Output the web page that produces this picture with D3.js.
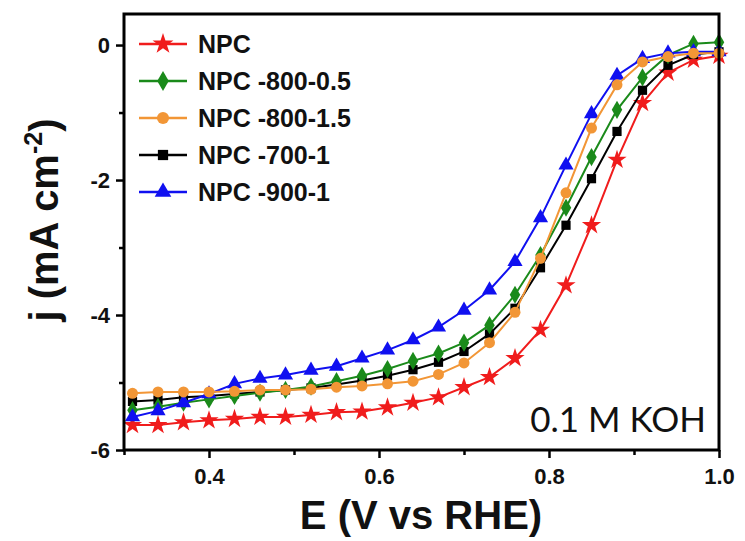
<!DOCTYPE html>
<html><head><meta charset="utf-8">
<script src="https://cdn.jsdelivr.net/npm/d3@7"></script>
<style>body{margin:0;background:#fff}svg{display:block}</style>
</head><body>
<script>
// ---- data ----
const potentials = [0.31,0.34,0.37,0.40,0.43,0.46,0.49,0.52,0.55,0.58,0.61,0.64,0.67,0.70,0.73,0.76,0.79,0.82,0.85,0.88,0.91,0.94,0.97,1.00];
const seriesNames = ["NPC","NPC -800-0.5","NPC -800-1.5","NPC -700-1","NPC -900-1"];
const jNPC      = [-5.63,-5.63,-5.59,-5.56,-5.54,-5.51,-5.51,-5.48,-5.44,-5.43,-5.37,-5.30,-5.22,-5.07,-4.92,-4.64,-4.22,-3.56,-2.67,-1.70,-0.86,-0.41,-0.22,-0.16];
const jNPC800_05= [-5.41,-5.36,-5.30,-5.25,-5.20,-5.15,-5.11,-5.06,-4.98,-4.90,-4.80,-4.68,-4.57,-4.41,-4.15,-3.70,-3.11,-2.41,-1.66,-0.96,-0.48,-0.15,0.02,0.04];
const jNPC800_15= [-5.16,-5.14,-5.14,-5.14,-5.13,-5.11,-5.11,-5.10,-5.07,-5.05,-5.02,-4.98,-4.88,-4.71,-4.41,-3.96,-3.16,-2.19,-1.23,-0.59,-0.25,-0.17,-0.12,-0.12];
const jNPC700_1 = [-5.28,-5.26,-5.22,-5.20,-5.17,-5.14,-5.11,-5.08,-5.03,-4.97,-4.90,-4.81,-4.70,-4.54,-4.28,-3.90,-3.30,-2.67,-1.98,-1.28,-0.67,-0.30,-0.14,-0.10];
const jNPC900_1 = [-5.51,-5.42,-5.30,-5.17,-5.02,-4.94,-4.89,-4.82,-4.76,-4.64,-4.52,-4.37,-4.18,-3.93,-3.63,-3.21,-2.56,-1.78,-1.02,-0.45,-0.20,-0.12,-0.10,-0.10];
const seriesColors = ["#f01c1c","#1a8a1a","#f29636","#000000","#1010f0"];
const xTicks = [0.4,0.6,0.8,1.0];
const xMinor = [0.3,0.5,0.7,0.9];
const yTicks = [0,-2,-4,-6];
const yMinor = [-1,-3,-5];
const annotation = "0.1 M KOH";

const allJ = [jNPC,jNPC800_05,jNPC800_15,jNPC700_1,jNPC900_1];
const symbols = [d3.symbolStar,d3.symbolDiamond,d3.symbolCircle,d3.symbolSquare,d3.symbolTriangle];
const symSizes = [115,95,95,85,100];

const W=745,H=541;
const M={l:124,r:719,t:14,b:450};
const svg=d3.select("body").append("svg").attr("width",W).attr("height",H);
const x=d3.scaleLinear().domain([0.3,1.0]).range([M.l,M.r]);
const y=d3.scaleLinear().domain([-6,0.46]).range([M.b,M.t]);
const font="'Liberation Sans',Arial,sans-serif";

// series (draw order)
const order=[0,3,1,4,2];
const line=d3.line().x(d=>x(d[0])).y(d=>y(d[1]));
order.forEach(i=>{
  const pts=potentials.map((p,k)=>[p,allJ[i][k]]);
  const g=svg.append("g");
  g.append("path").datum(pts).attr("d",line).attr("fill","none").attr("stroke",seriesColors[i]).attr("stroke-width",2);
  g.selectAll("path.m").data(pts).join("path").attr("class","m")
    .attr("d",d3.symbol().type(symbols[i]).size(symSizes[i]))
    .attr("transform",d=>`translate(${x(d[0])},${y(d[1])})`)
    .attr("fill",seriesColors[i]);
});

// frame
svg.append("rect").attr("x",M.l).attr("y",M.t).attr("width",M.r-M.l).attr("height",M.b-M.t)
  .attr("fill","none").attr("stroke","#000").attr("stroke-width",3);

// axes
const xa=svg.append("g").attr("transform",`translate(0,${M.b})`)
  .call(d3.axisBottom(x).tickValues(xTicks).tickFormat(d3.format(".1f")).tickSize(8).tickPadding(10));
const xm=svg.append("g").attr("transform",`translate(0,${M.b})`)
  .call(d3.axisBottom(x).tickValues(xMinor).tickFormat("").tickSize(5));
const ya=svg.append("g").attr("transform",`translate(${M.l},0)`)
  .call(d3.axisLeft(y).tickValues(yTicks).tickFormat(d=>String(d)).tickSize(8).tickPadding(6));
const ym=svg.append("g").attr("transform",`translate(${M.l},0)`)
  .call(d3.axisLeft(y).tickValues(yMinor).tickFormat("").tickSize(5));
[xa,xm,ya,ym].forEach(g=>{
  g.select(".domain").remove();
  g.selectAll("line").attr("stroke","#000").attr("stroke-width",2.5);
  g.selectAll("text").attr("font-family",font).attr("font-weight","bold").attr("font-size",22).attr("fill","#111");
});

// axis titles
svg.append("text").attr("x",421).attr("y",529).attr("text-anchor","middle")
  .attr("font-family",font).attr("font-weight","bold").attr("font-size",40).attr("fill","#111")
  .text("E (V vs RHE)");
const yt=svg.append("text").attr("transform","translate(58,220) rotate(-90)").attr("text-anchor","middle")
  .attr("font-family",font).attr("font-weight","bold").attr("font-size",40).attr("fill","#111");
yt.append("tspan").text("j (mA cm");
yt.append("tspan").attr("dy",-16).attr("font-size",25).text("-2");
yt.append("tspan").attr("dy",16).text(")");

// legend
const lg=svg.append("g");
seriesNames.forEach((n,i)=>{
  const cy=44+i*37;
  lg.append("line").attr("x1",139).attr("x2",187).attr("y1",cy).attr("y2",cy).attr("stroke",seriesColors[i]).attr("stroke-width",2.5);
  lg.append("path").attr("d",d3.symbol().type(symbols[i]).size(symSizes[i]+20)).attr("transform",`translate(163,${cy})`).attr("fill",seriesColors[i]);
  lg.append("text").attr("x",198).attr("y",cy+9).attr("font-family",font).attr("font-weight","bold").attr("font-size",25).attr("fill","#111").text(n);
});

// annotation
svg.append("text").attr("x",706).attr("y",432).attr("text-anchor","end")
  .attr("font-family","Lato,'Open Sans',sans-serif").attr("font-size",35).attr("fill","#111").text(annotation);
</script>
</body></html>
